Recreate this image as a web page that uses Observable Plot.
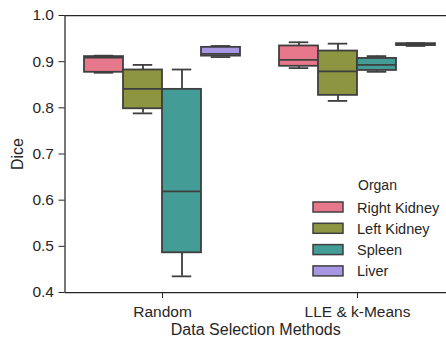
<!DOCTYPE html>
<html><head><meta charset="utf-8">
<script src="https://cdn.jsdelivr.net/npm/d3@7"></script>
<script src="https://cdn.jsdelivr.net/npm/@observablehq/plot@0.6"></script>
<style>
body{margin:0;background:#fff;}
svg{font-family:"Liberation Sans",Arial,sans-serif;}
</style></head>
<body><div id="chart"></div>
<script>
const methods = ["Random", "LLE & k-Means"];
const organs = ["Right Kidney", "Left Kidney", "Spleen", "Liver"];
const colors = ["#e7788b", "#8e9540", "#439c95", "#a796e4"];
// per method, per organ: [whiskerLow, q1, median, q3, whiskerHigh]
const randomStats = [
  [0.876, 0.877, 0.909, 0.911, 0.913],
  [0.788, 0.798, 0.841, 0.882, 0.893],
  [0.435, 0.486, 0.619, 0.840, 0.883],
  [0.910, 0.912, 0.917, 0.931, 0.934]
];
const lleStats = [
  [0.886, 0.890, 0.904, 0.934, 0.942],
  [0.815, 0.827, 0.879, 0.923, 0.939],
  [0.878, 0.881, 0.893, 0.907, 0.912],
  [0.934, 0.935, 0.937, 0.939, 0.940]
];
const yTicks = [0.4, 0.5, 0.6, 0.7, 0.8, 0.9, 1.0];

const stats = [randomStats, lleStats];
const rows = [];
methods.forEach((m, mi) => organs.forEach((o, oi) => {
  const [lo, q1, med, q3, hi] = stats[mi][oi];
  const c = mi + (oi - 1.5) * 0.2;
  rows.push({m, o, c, x1: c - 0.1, x2: c + 0.1, lo, q1, med, q3, hi});
}));

const ink = "#3f3f3f";
const txt = "#262626";
const chart = Plot.plot({
  width: 446, height: 339,
  marginLeft: 64.5, marginRight: 0, marginTop: 15, marginBottom: 47,
  style: {fontFamily: "Liberation Sans, Arial, sans-serif", fontSize: "15px", color: txt},
  x: {type: "linear", domain: [-0.5, 1.5], range: [64.5, 454.5]},
  y: {domain: [0.4, 1.0], range: [292, 15]},
  color: {domain: organs, range: colors},
  marks: [
    Plot.ruleX(rows, {x: "c", y1: "lo", y2: "q1", stroke: ink, strokeWidth: 1.8}),
    Plot.ruleX(rows, {x: "c", y1: "q3", y2: "hi", stroke: ink, strokeWidth: 1.8}),
    Plot.rect(rows, {x1: "x1", x2: "x2", y1: "q1", y2: "q3", fill: "o", stroke: ink, strokeWidth: 1.8}),
    Plot.ruleY(rows, {y: "med", x1: "x1", x2: "x2", stroke: ink, strokeWidth: 1.8}),
    Plot.ruleY(rows, {y: "lo", x1: d => d.c - 0.05, x2: d => d.c + 0.05, stroke: ink, strokeWidth: 1.8}),
    Plot.ruleY(rows, {y: "hi", x1: d => d.c - 0.05, x2: d => d.c + 0.05, stroke: ink, strokeWidth: 1.8}),
    Plot.ruleY([1.0], {stroke: txt, strokeWidth: 1.25}),
    Plot.ruleY([0.4], {stroke: txt, strokeWidth: 1.25}),
    Plot.ruleX([-0.5], {stroke: txt, strokeWidth: 1.25}),
    Plot.axisY({ticks: yTicks, tickFormat: d3.format(".1f"), tickSize: 6, tickPadding: 5,
      fontSize: 15.5, stroke: txt, fill: txt,
      label: "Dice", labelAnchor: "center", labelArrow: "none", labelOffset: 53}),
    Plot.axisX({ticks: [0, 1], tickFormat: i => methods[i], tickSize: 6, tickPadding: 7,
      fontSize: 15.5, stroke: txt, fill: txt,
      label: "Data Selection Methods", labelAnchor: "center", labelArrow: "none", labelOffset: 42})
  ]
});
document.getElementById("chart").appendChild(chart);

// legend inside plot
const svg = d3.select(chart);
const lg = svg.append("g").attr("font-family", "Liberation Sans, Arial, sans-serif").attr("fill", txt);
lg.append("text").attr("x", 377.5).attr("y", 190).attr("text-anchor", "middle").attr("font-size", 14).text("Organ");
organs.forEach((o, i) => {
  const y = 202 + i * 21.3;
  lg.append("rect").attr("x", 313).attr("y", y).attr("width", 30).attr("height", 10)
    .attr("fill", colors[i]).attr("stroke", ink).attr("stroke-width", 1.5);
  lg.append("text").attr("x", 357).attr("y", y + 10.5).attr("text-anchor", "start")
    .attr("font-size", 14.5).text(o);
});
// font sizes
svg.selectAll("[aria-label='y-axis tick label'] text, [aria-label='x-axis tick label'] text")
  .attr("font-size", 15.5).style("font-size", "15.5px");
svg.selectAll("[aria-label='y-axis label'] text, [aria-label='x-axis label'] text")
  .attr("font-size", 16).style("font-size", "16px");
</script></body></html>
